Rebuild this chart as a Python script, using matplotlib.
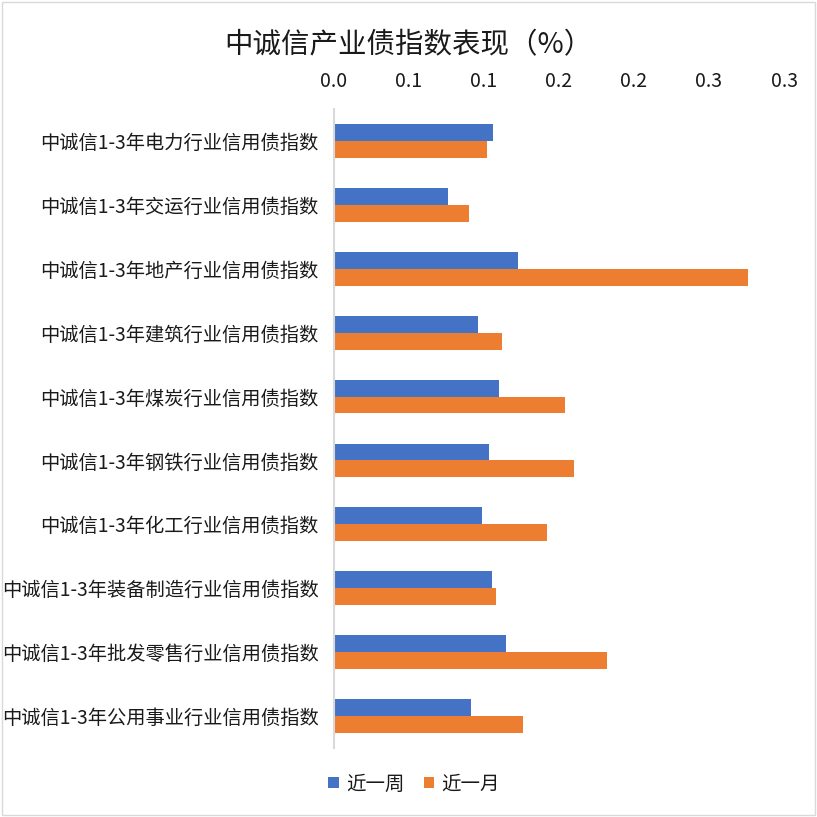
from decimal import Decimal, ROUND_HALF_UP

import matplotlib
matplotlib.use("Agg")
import matplotlib.pyplot as plt
import numpy as np
from matplotlib.ticker import FuncFormatter
from matplotlib.patches import Rectangle

plt.rcParams['font.family'] = ['Noto Sans CJK SC', 'DejaVu Sans']

categories = [
    "中诚信1-3年电力行业信用债指数",
    "中诚信1-3年交运行业信用债指数",
    "中诚信1-3年地产行业信用债指数",
    "中诚信1-3年建筑行业信用债指数",
    "中诚信1-3年煤炭行业信用债指数",
    "中诚信1-3年钢铁行业信用债指数",
    "中诚信1-3年化工行业信用债指数",
    "中诚信1-3年装备制造行业信用债指数",
    "中诚信1-3年批发零售行业信用债指数",
    "中诚信1-3年公用事业行业信用债指数",
]
week = [0.1058, 0.0758, 0.1224, 0.0960, 0.1100, 0.1033, 0.0987, 0.1053, 0.1144, 0.0911]
month = [0.1018, 0.0900, 0.2758, 0.1120, 0.1540, 0.1600, 0.1420, 0.1080, 0.1818, 0.1258]
series_names = ["近一周", "近一月"]

BLUE = "#4472C4"
ORANGE = "#ED7D31"
TEXT = "#1a1a1a"


def excel_fmt(v, pos):
    # Excel style: one decimal, half rounded up
    d = Decimal(str(round(v, 4))).quantize(Decimal("0.1"), rounding=ROUND_HALF_UP)
    return f"{d}"


fig = plt.figure(figsize=(8.17, 8.17), dpi=100)
ax = fig.add_axes([334 / 817, 1 - 748 / 817, 450 / 817, 639 / 817])

y = np.arange(len(categories))
h = 0.265
ax.barh(y - h / 2, week, height=h, color=BLUE, label=series_names[0])
ax.barh(y + h / 2, month, height=h, color=ORANGE, label=series_names[1])

ax.set_ylim(len(categories) - 0.5, -0.5)
ax.set_xlim(0, 0.30)
ax.set_xticks(np.arange(0, 0.3001, 0.05))
ax.xaxis.set_major_formatter(FuncFormatter(excel_fmt))
ax.xaxis.tick_top()
ax.tick_params(axis='x', length=0, pad=12, labelsize=14, colors=TEXT)
ax.set_yticks(y)
ax.set_yticklabels(categories)
ax.tick_params(axis='y', length=0, pad=11, labelsize=13.85, colors=TEXT)

for s in ['top', 'right', 'bottom']:
    ax.spines[s].set_visible(False)
ax.spines['left'].set_color('#d9d9d9')
ax.spines['left'].set_linewidth(1.5)

fig.text(0.5, 1 - 45 / 817, "中诚信产业债指数表现（%）", ha='center', va='center',
         fontsize=20.5, color=TEXT)

fig.legend(loc='center', bbox_to_anchor=(414 / 817, 1 - 784 / 817), ncol=2,
           frameon=False, fontsize=14, handlelength=0.55, handleheight=0.55,
           handletextpad=0.35, columnspacing=1.0, labelcolor=TEXT)

fig.patches.append(Rectangle((0.002, 0.002), 0.996, 0.996, transform=fig.transFigure,
                             fill=False, edgecolor='#d9d9d9', linewidth=1))

fig.savefig("out.png", dpi=100)
